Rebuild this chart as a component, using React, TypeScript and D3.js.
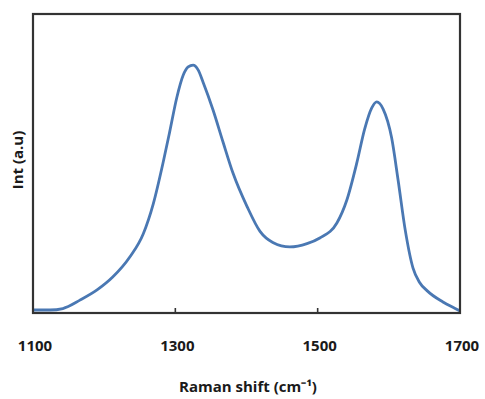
import React from "react";
import * as d3 from "d3";

const shifts = [1100, 1124, 1142, 1166, 1190, 1212, 1236, 1255, 1269, 1283, 1292, 1302, 1311, 1318, 1325, 1332, 1339, 1353, 1367, 1381, 1401, 1419, 1437, 1461, 1485, 1503, 1527, 1541, 1555, 1566, 1576, 1583, 1592, 1604, 1613, 1623, 1634, 1643, 1654, 1676, 1696, 1700];
const intensity = [1.0, 1.0, 1.5, 4.3, 7.7, 12.0, 18.7, 26.5, 36.5, 50.5, 60.5, 72.0, 79.5, 82.3, 82.9, 81.3, 77.2, 67.9, 57.2, 46.8, 35.5, 27.3, 23.6, 22.1, 23.2, 25.1, 30.1, 37.8, 50.2, 61.5, 68.6, 70.6, 68.2, 58.5, 44.5, 27.8, 15.0, 10.3, 7.4, 3.7, 1.2, 0.7];
const xTicks = [1100, 1300, 1500, 1700];
const xTitle = "Raman shift (cm\u207B\u00B9)";
const yTitle = "Int (a.u)";

export default function App() {
  const W = 485, H = 399;
  const left = 33, right = 460, top = 14, bottom = 313;
  const x = d3.scaleLinear().domain([1100, 1700]).range([left, right]);
  const y = d3.scaleLinear().domain([0, 100]).range([bottom, top]);
  const data = shifts.map((s, i) => [s, intensity[i]] as [number, number]);
  const line = d3.line<[number, number]>().x(d => x(d[0])).y(d => y(d[1])).curve(d3.curveMonotoneX);
  const font = "'Open Sans', sans-serif";
  return (
    <svg width={W} height={H} style={{ position: "absolute", left: 0, top: 0 }}>
      <rect width={W} height={H} fill="#fff" />
      <path d={line(data) || ""} fill="none" stroke="#4a78b3" strokeWidth={2.8} strokeLinejoin="round" />
      <rect x={left} y={top} width={right - left} height={bottom - top} fill="none" stroke="#333" strokeWidth={2.2} />
      {xTicks.slice(1, -1).map(t => (
        <line key={t} x1={x(t)} x2={x(t)} y1={bottom} y2={bottom - 5} stroke="#333" strokeWidth={1.6} />
      ))}
      {xTicks.map(t => (
        <text key={t} x={x(t) + 2} y={351} textAnchor="middle" fontFamily={font} fontWeight={700} fontSize={15} fill="#1a1a1a">{t}</text>
      ))}
      <text x={248} y={392} textAnchor="middle" fontFamily={font} fontWeight={700} fontSize={15} fill="#1a1a1a">{xTitle}</text>
      <text transform="translate(23,160) rotate(-90)" textAnchor="middle" fontFamily={font} fontWeight={700} fontSize={15} fill="#1a1a1a">{yTitle}</text>
    </svg>
  );
}
